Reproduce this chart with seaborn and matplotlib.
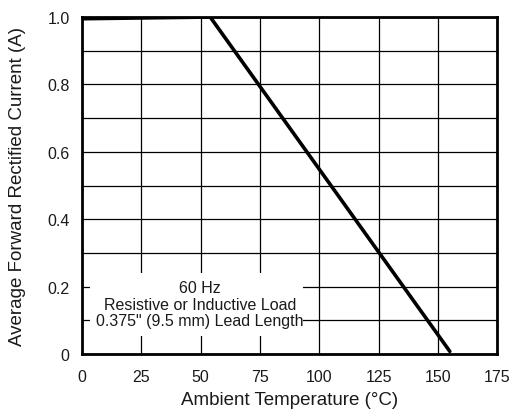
import matplotlib
matplotlib.use("Agg")
import matplotlib.pyplot as plt
import seaborn as sns
import pandas as pd
from matplotlib.patches import Rectangle

temperature = [0, 54, 155]
current = [0.995, 1.0, 0.008]
x_ticks = [0, 25, 50, 75, 100, 125, 150, 175]
y_ticks = [0, 0.2, 0.4, 0.6, 0.8, 1.0]
y_tick_labels = ["0", "0.2", "0.4", "0.6", "0.8", "1.0"]
note_lines = ["60 Hz", "Resistive or Inductive Load", "0.375\" (9.5 mm) Lead Length"]

sns.set_theme(style="white")
plt.rcParams['font.family'] = ['Liberation Sans', 'DejaVu Sans']

df = pd.DataFrame({"Temperature": temperature, "Current": current})

fig = plt.figure(figsize=(5.1, 4.1), dpi=100)
ax = fig.add_axes([0.161, 0.134, 0.814, 0.822])

sns.lineplot(data=df, x="Temperature", y="Current", ax=ax, color="black",
             linewidth=2.6, zorder=5)

ax.set_xlim(0, 175)
ax.set_ylim(0, 1.0)
ax.set_xticks(x_ticks)
ax.set_xticklabels([str(t) for t in x_ticks], fontsize=11.5, color="#1a1a1a")
ax.set_yticks(y_ticks)
ax.set_yticklabels(y_tick_labels, fontsize=11.5, color="#1a1a1a")
ax.set_yticks([i / 10 for i in range(11)], minor=True)
ax.tick_params(axis="both", which="both", length=0)
ax.tick_params(axis="y", pad=9)
ax.tick_params(axis="x", pad=11)
ax.grid(True, which="both", color="black", linewidth=0.9)
ax.set_axisbelow(True)
for s in ax.spines.values():
    s.set_visible(True)
    s.set_color("black")
    s.set_linewidth(2.0)

ax.set_xlabel("Ambient Temperature (°C)", fontsize=13.5, labelpad=5, color="#1a1a1a")
ax.set_ylabel("Average Forward Rectified Current (A)", fontsize=13.5, labelpad=15, color="#1a1a1a")

ax.add_patch(Rectangle((3.2, 0.053), 89.8, 0.187, facecolor="white",
                       edgecolor="none", zorder=3, transform=ax.transData))
ax.text(49.6, 0.148, "\n".join(note_lines), ha="center", va="center",
        fontsize=11.5, linespacing=1.15, zorder=4, color="#1a1a1a")

fig.savefig("out.png", dpi=100)
